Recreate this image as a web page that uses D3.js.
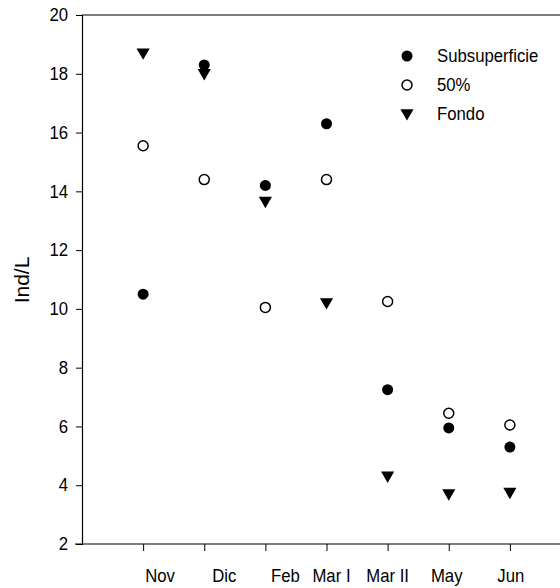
<!DOCTYPE html>
<html>
<head>
<meta charset="utf-8">
<script src="https://cdn.jsdelivr.net/npm/d3@7"></script>
<style>
  body { margin: 0; background: #fff; }
  text { font-family: "Liberation Sans", Arial, sans-serif; }
</style>
</head>
<body>
<div id="chart"></div>
<script>
// months sampled
var months = ["Nov", "Dic", "Feb", "Mar I", "Mar II", "May", "Jun"];
// label nudges, the original labels are not centred on their ticks
var labelShift = [17, 20, 20, 5, 0, -2, 1];

var subsuperficie = [10.5, 18.3, 14.2, 16.3, 7.25, 5.95, 5.3];
var medio = [15.55, 14.4, 10.05, 14.4, 10.25, 6.45, 6.05];
var fondo = [18.7, 18.0, 13.65, 10.2, 4.3, 3.7, 3.75];

var yTicks = [2, 4, 6, 8, 10, 12, 14, 16, 18, 20];

var W = 560, H = 588;
var FS = 18, SX = 0.93;   // the original type is a bit narrow
var svg = d3.select("#chart").append("svg").attr("width", W).attr("height", H);

var x = d3.scaleLinear().domain([0, 8]).range([82, 571]);
var y = d3.scaleLinear().domain([2, 20]).range([544, 15]);

// squeeze a text horizontally around its anchor point
function squeeze(sel) {
  sel.each(function() {
    var t = d3.select(this);
    var ax = +t.attr("x") || 0, ay = +t.attr("y") || 0;
    t.attr("transform", "translate(" + ax + "," + ay + ") scale(" + SX + ",1) translate(" + (-ax) + "," + (-ay) + ")");
  });
}

// frame: top and bottom lines run off the right edge
svg.append("line").attr("x1", 82).attr("x2", W).attr("y1", y(20)).attr("y2", y(20))
  .attr("stroke", "#000").attr("stroke-width", 1.2);

var yAxis = d3.axisLeft(y).tickValues(yTicks).tickSize(6).tickPadding(8);
var gy = svg.append("g").attr("transform", "translate(" + x(0) + ",0)").call(yAxis);
gy.select(".domain").attr("stroke-width", 1.2);
gy.selectAll("text").attr("font-size", FS).attr("fill", "#000").call(squeeze);

var xAxis = d3.axisBottom(x).tickValues(d3.range(1, 8)).tickSize(7).tickFormat("");
var gx = svg.append("g").attr("transform", "translate(0," + y(2) + ")").call(xAxis);
gx.select(".domain").remove();
gx.append("line").attr("x1", 75).attr("x2", W).attr("stroke", "#000").attr("stroke-width", 1.2);

svg.selectAll("text.month").data(months).enter().append("text")
  .attr("class", "month")
  .attr("x", function(d, i) { return x(i + 1) + labelShift[i]; })
  .attr("y", 582)
  .attr("text-anchor", "middle")
  .attr("font-size", FS)
  .text(function(d) { return d; })
  .call(squeeze);

svg.append("text")
  .attr("transform", "translate(29,280) rotate(-90)")
  .attr("text-anchor", "middle")
  .attr("font-size", 21)
  .text("Ind/L");

var tri = d3.symbol().type(d3.symbolTriangle).size(75);

function drawSeries(vals, kind) {
  var g = svg.append("g");
  vals.forEach(function(v, i) {
    addMarker(g, kind, x(i + 1), y(v));
  });
}

function addMarker(g, kind, cx, cy) {
  if (kind == "fill") {
    g.append("circle").attr("cx", cx).attr("cy", cy).attr("r", 5.5).attr("fill", "#000");
  } else if (kind == "open") {
    g.append("circle").attr("cx", cx).attr("cy", cy).attr("r", 5)
      .attr("fill", "#fff").attr("stroke", "#000").attr("stroke-width", 1.5);
  } else {
    g.append("path").attr("d", tri)
      .attr("transform", "translate(" + cx + "," + (cy - 1) + ") rotate(180)")
      .attr("fill", "#000");
  }
}

drawSeries(subsuperficie, "fill");
drawSeries(medio, "open");
drawSeries(fondo, "tri");

// legend
var legend = [["Subsuperficie", "fill"], ["50%", "open"], ["Fondo", "tri"]];
var lg = svg.append("g");
legend.forEach(function(d, i) {
  var ly = 56 + i * 29;
  addMarker(lg, d[1], 407, ly);
  lg.append("text").attr("x", 437).attr("y", ly + 6.5).attr("font-size", FS).text(d[0]).call(squeeze);
});
</script>
</body>
</html>
